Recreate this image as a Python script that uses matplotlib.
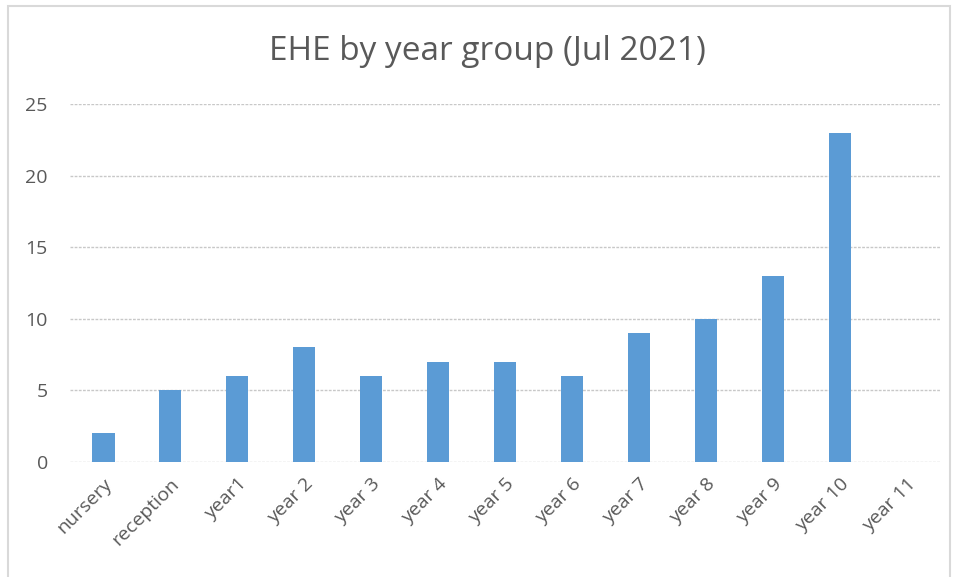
import matplotlib.pyplot as plt
from matplotlib.patches import Rectangle

categories = ['nursery', 'reception', 'year1', 'year 2', 'year 3', 'year 4', 'year 5',
              'year 6', 'year 7', 'year 8', 'year 9', 'year 10', 'year 11']
values = [2, 5, 6, 8, 6, 7, 7, 6, 9, 10, 13, 23, 0]
yticks = [0, 5, 10, 15, 20, 25]

plt.rcParams['font.family'] = ['Open Sans', 'DejaVu Sans']

W, H = 959, 577
fig = plt.figure(figsize=(W / 100, H / 100), dpi=100)
ax = fig.add_axes([70 / W, (H - 462) / H, 870 / W, (462 - 104) / H])

x = range(len(categories))
ax.bar(x, values, width=0.33, color='#5B9BD5', zorder=3)
ax.set_xlim(-0.5, len(categories) - 0.5)
ax.set_ylim(0, 25)
ax.set_yticks(yticks)
ax.set_xticks(list(x))
ax.set_xticklabels(categories, rotation=45, ha='right', rotation_mode='anchor')
ax.tick_params(axis='both', length=0, labelsize=14, colors='#595959')
ax.tick_params(axis='y', pad=16)
ax.tick_params(axis='x', pad=9)
ax.grid(axis='y', color='#c8c8c8', linestyle=(0, (2, 1)), linewidth=1, zorder=0)
for s in ax.spines.values():
    s.set_visible(False)

fig.text(487 / W, (H - 51) / H, 'EHE by year group (Jul 2021)', ha='center', va='center',
         fontsize=24, color='#595959')

# chart frame
fig.patches.append(Rectangle((8 / W, -0.05), 942 / W, (H - 6) / H + 0.05,
                             transform=fig.transFigure, fill=False,
                             edgecolor='#d9d9d9', linewidth=1.5))

fig.savefig('out.png', dpi=100)
